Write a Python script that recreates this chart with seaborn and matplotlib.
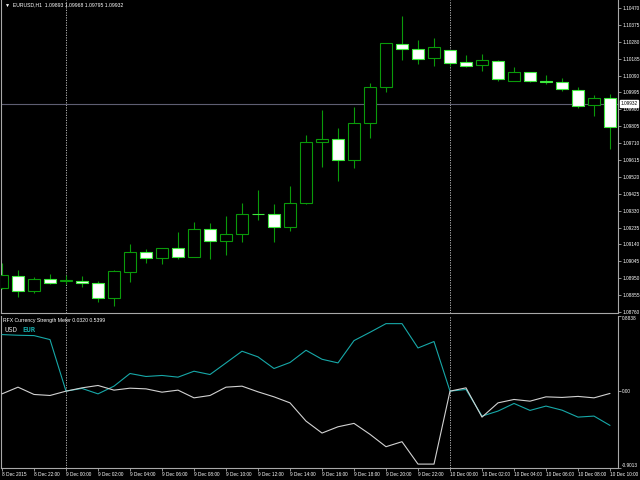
import numpy as np
import pandas as pd
import matplotlib
matplotlib.use("Agg")
import matplotlib.pyplot as plt
import seaborn as sns

# EURUSD H1 bars, 8 Dec 2015 20:00 -> 10 Dec 2015 10:00
opens = [1.08895, 1.08964, 1.08880, 1.08946, 1.08935, 1.08934, 1.08921, 1.08837, 1.08987, 1.09096,
         1.09062, 1.09118, 1.09071, 1.09225, 1.09161, 1.09197, 1.09311, 1.09310, 1.09236, 1.09371,
         1.09715, 1.09731, 1.09613, 1.09821, 1.10024, 1.10268, 1.10241, 1.10187, 1.10232, 1.10165,
         1.10148, 1.10174, 1.10061, 1.10108, 1.10059, 1.10052, 1.10010, 1.09923, 1.09962]
highs = [1.09036, 1.08996, 1.08955, 1.08974, 1.08968, 1.08963, 1.08934, 1.08996, 1.09143, 1.09113,
         1.09120, 1.09208, 1.09268, 1.09259, 1.09300, 1.09371, 1.09445, 1.09368, 1.09469, 1.09756,
         1.09896, 1.09797, 1.09911, 1.10046, 1.10273, 1.10425, 1.10290, 1.10300, 1.10234, 1.10206,
         1.10211, 1.10176, 1.10136, 1.10112, 1.10093, 1.10075, 1.10024, 1.09979, 1.09985]
lows = [1.08890, 1.08846, 1.08869, 1.08916, 1.08918, 1.08902, 1.08818, 1.08794, 1.08930, 1.09037,
        1.09030, 1.09058, 1.09068, 1.09058, 1.09079, 1.09155, 1.09278, 1.09155, 1.09217, 1.09368,
        1.09577, 1.09499, 1.09568, 1.09737, 1.09996, 1.10178, 1.10153, 1.10145, 1.10144, 1.10138,
        1.10118, 1.10059, 1.10059, 1.10055, 1.10041, 1.10005, 1.09906, 1.09864, 1.09677]
closes = [1.08968, 1.08880, 1.08946, 1.08921, 1.08937, 1.08921, 1.08837, 1.08989, 1.09096, 1.09062,
          1.09118, 1.09071, 1.09225, 1.09161, 1.09197, 1.09310, 1.09309, 1.09236, 1.09371, 1.09715,
          1.09731, 1.09617, 1.09821, 1.10024, 1.10271, 1.10241, 1.10181, 1.10249, 1.10162, 1.10144,
          1.10175, 1.10069, 1.10108, 1.10061, 1.10052, 1.10013, 1.09920, 1.09962, 1.09799]

# currency strength meter values
usd = [-0.032, 0.047, -0.039, -0.051, 0.0, 0.039, 0.067, 0.012, 0.035, 0.027,
       -0.012, 0.012, -0.079, -0.051, 0.047, 0.059, -0.008, -0.067, -0.138, -0.353,
       -0.494, -0.420, -0.380, -0.509, -0.655, -0.596, -0.860, -0.860, 0.0, 0.039,
       -0.306, -0.138, -0.098, -0.118, -0.067, -0.074, -0.062, -0.079, -0.027]
eur = [0.667, 0.659, 0.655, 0.608, 0.0, 0.032, -0.032, 0.059, 0.208, 0.173,
       0.185, 0.165, 0.235, 0.196, 0.333, 0.471, 0.404, 0.267, 0.338, 0.482,
       0.376, 0.333, 0.596, 0.694, 0.796, 0.796, 0.509, 0.585, 0.0, 0.020,
       -0.294, -0.235, -0.145, -0.227, -0.176, -0.224, -0.306, -0.294, -0.404]

price_labels = ["1.10470", "1.10375", "1.10280", "1.10185", "1.10090", "1.09995", "1.09900",
                "1.09805", "1.09710", "1.09615", "1.09520", "1.09425", "1.09330", "1.09235",
                "1.09140", "1.09045", "1.08950", "1.08855", "1.08760"]
time_labels = ["8 Dec 2015", "8 Dec 22:00", "9 Dec 00:00", "9 Dec 02:00", "9 Dec 04:00",
               "9 Dec 06:00", "9 Dec 08:00", "9 Dec 10:00", "9 Dec 12:00", "9 Dec 14:00",
               "9 Dec 16:00", "9 Dec 18:00", "9 Dec 20:00", "9 Dec 22:00", "10 Dec 00:00",
               "10 Dec 02:00", "10 Dec 04:00", "10 Dec 06:00", "10 Dec 08:00", "10 Dec 10:00"]
ind_ticks = [0.8838, 0.0, -0.9013]
ind_labels = ["0.8838", "0.00", "-0.9013"]
bid = 1.09932
day_starts = [4, 28]

sns.set_theme(style="dark")
plt.rcParams["font.family"] = ["Liberation Sans", "DejaVu Sans"]

df = pd.DataFrame({"bar": np.arange(len(opens)), "open": opens, "high": highs,
                   "low": lows, "close": closes, "usd": usd, "eur": eur})
df["up"] = df["close"] >= df["open"]

AX_C = "#a8a8a8"
BULL = "#0a9a0a"
BEAR = "#3ee83e"
TEAL = "#17a8a8"
fs = 3.4

fig = plt.figure(figsize=(6.4, 4.8), dpi=100, facecolor="black")
ax1 = fig.add_axes([1 / 640, 1 - 313 / 480, 617 / 640, 313 / 480])
ax2 = fig.add_axes([1 / 640, 1 - 468 / 480, 617 / 640, (468 - 316) / 480])

for ax in (ax1, ax2):
    ax.set_facecolor("black")
    ax.grid(False)
    ax.set_xlim(-0.0625, 38.5)
    for s in ("left", "right", "bottom", "top"):
        ax.spines[s].set_color(AX_C)
        ax.spines[s].set_linewidth(0.8)
    ax.spines["top"].set_visible(False)
    ax.yaxis.tick_right()
    ax.tick_params(axis="y", colors=AX_C, labelcolor="white", labelsize=fs,
                   length=2, width=0.6, pad=1, left=False, right=True)
    for d in day_starts:
        ax.axvline(d, color="#c8c8c8", lw=0.6, ls=(0, (1.5, 1.5)), zorder=1)

# candles
ax1.vlines(df["bar"], df["low"], df["high"], color=BULL, lw=0.8, zorder=2)
body_lo = df[["open", "close"]].min(axis=1)
body_h = (df["close"] - df["open"]).abs().clip(lower=0.000004)
up = df["up"]
ax1.bar(df["bar"][up], body_h[up], bottom=body_lo[up], width=0.7,
        facecolor="black", edgecolor=BULL, linewidth=0.8, zorder=3)
ax1.bar(df["bar"][~up], body_h[~up], bottom=body_lo[~up], width=0.7,
        facecolor="white", edgecolor=BEAR, linewidth=0.8, zorder=3)

ax1.set_ylim(1.08754, 1.10515)
ax1.set_yticks([float(p) for p in price_labels])
ax1.set_yticklabels(price_labels)
ax1.set_xticks([])
ax1.axhline(bid, color="#5e5e72", lw=0.8, zorder=1)
ax1.annotate(f"{bid:.5f}", xy=(1.004, bid), xycoords=(ax1.transAxes, ax1.transData),
             va="center", ha="left", fontsize=fs, color="black",
             bbox=dict(boxstyle="square,pad=0.15", facecolor="white", edgecolor="white"),
             annotation_clip=False)
ax1.text(0.006, 0.992, "\u25bc  EURUSD,H1  1.09893 1.09968 1.09795 1.09932",
         transform=ax1.transAxes, color="white", fontsize=fs + 0.3, va="top", ha="left")

# strength meter
sns.lineplot(data=df, x="bar", y="usd", ax=ax2, color="#d2d2d2", lw=0.8, zorder=4)
sns.lineplot(data=df, x="bar", y="eur", ax=ax2, color=TEAL, lw=0.8, zorder=3)
ax2.set_ylim(-0.906, 0.886)
ax2.set_yticks(ind_ticks)
ax2.set_yticklabels(ind_labels)
tl = ax2.get_yticklabels()
tl[0].set_va("top")
tl[-1].set_va("bottom")
ax2.set_xticks(np.arange(0, len(opens), 2))
ax2.set_xticklabels(time_labels, ha="left")
ax2.tick_params(axis="x", colors=AX_C, labelcolor="white", labelsize=fs,
                length=2, width=0.6, pad=1, bottom=True)
ax2.set_xlabel("")
ax2.set_ylabel("")
ax2.text(0.004, 0.99, "RFX Currency Strength Meter 0.0320 0.5399",
         transform=ax2.transAxes, color="white", fontsize=fs + 0.3, va="top", ha="left")
ax2.text(0.006, 0.93, "USD", transform=ax2.transAxes, color="#d8d8d8", fontsize=5.2,
         va="top", ha="left", family="DejaVu Sans Mono")
ax2.text(0.034, 0.93, "EUR", transform=ax2.transAxes, color=TEAL, fontsize=5.2,
         va="top", ha="left", family="DejaVu Sans Mono", fontweight="bold")

fig.savefig("out.png", dpi=100, facecolor="black")
